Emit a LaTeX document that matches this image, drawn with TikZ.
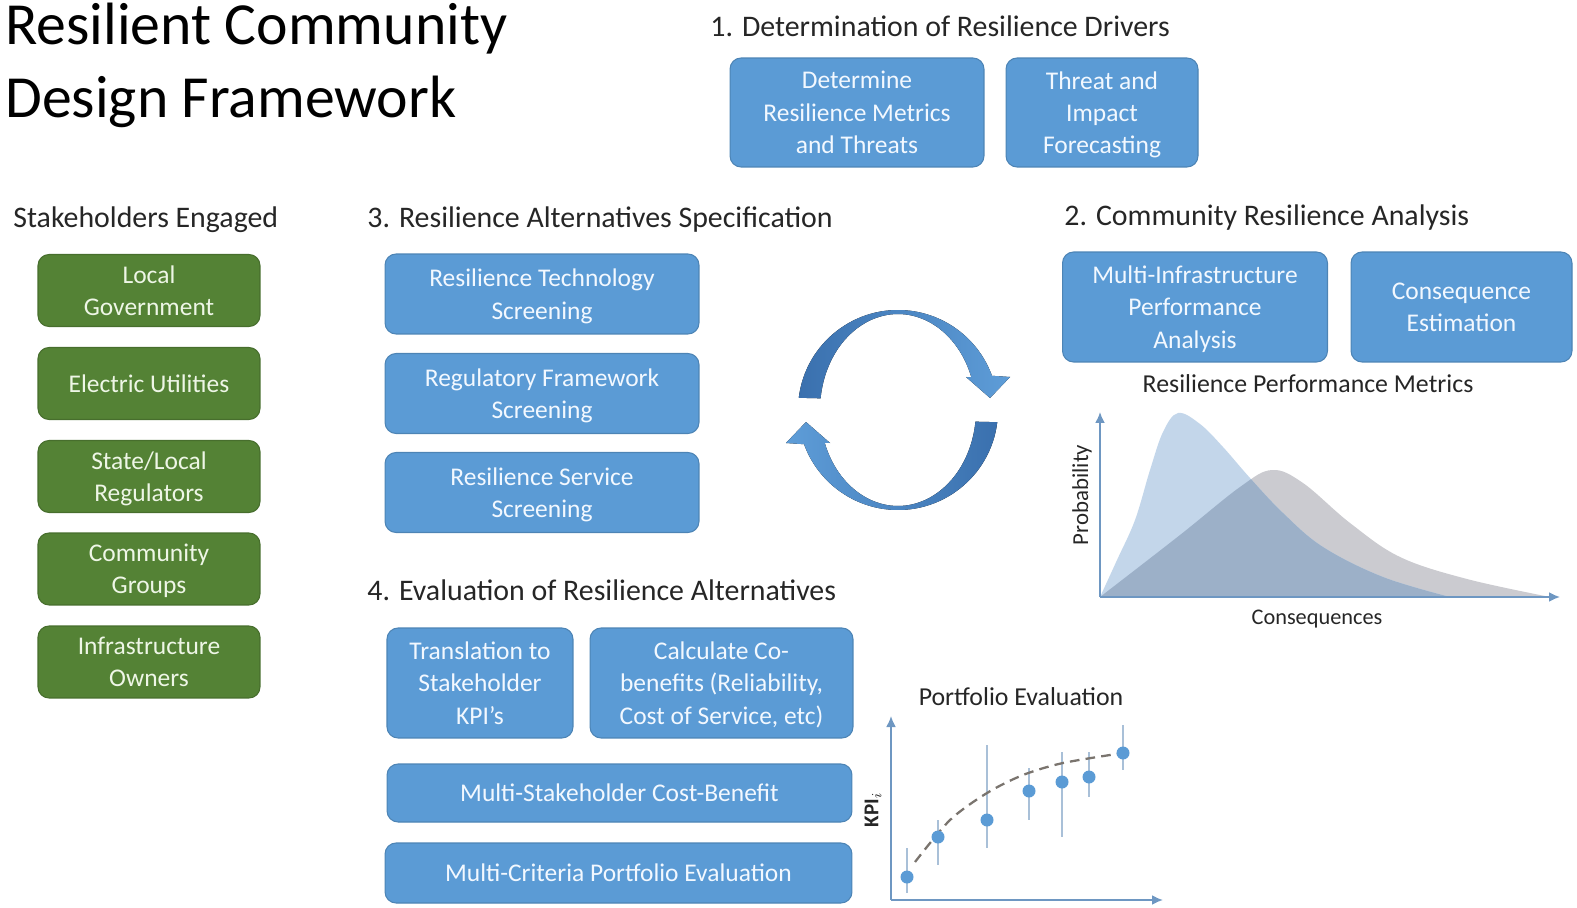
\documentclass[tikz,border=0pt]{standalone}
\usepackage{fontspec}
\setmainfont{Carlito}
\usepackage{xcolor}
\usepackage{tikz}
\usetikzlibrary{arrows.meta}

\definecolor{boxblue}{HTML}{5B9BD5}
\definecolor{boxgreen}{HTML}{548235}
\definecolor{boxtext}{HTML}{F2F8FF}
\definecolor{greentext}{HTML}{EEF6E6}
\definecolor{headgray}{HTML}{262626}
\definecolor{axisblue}{HTML}{6E97C2}
\definecolor{cycdark}{HTML}{3A70AE}
\definecolor{cyclight}{HTML}{5E9DD8}
\definecolor{pdfblue}{HTML}{C3D6EA}
\definecolor{pdfgray}{HTML}{CBCBD0}
\definecolor{pdfmix}{HTML}{9CB0C8}
\definecolor{errcolor}{HTML}{A9C0D8}
\definecolor{trendgray}{HTML}{7A746E}

\newcommand{\boxfont}{\fontsize{14.5}{18.4}\selectfont}

\begin{document}
\begin{tikzpicture}[x=0.02cm, y=0.02cm,
  bbox/.style={draw=boxblue!85!black, line width=0.6pt, fill=boxblue, rounded corners=0.22cm, text=boxtext, align=center, font=\boxfont, inner sep=0pt, text depth=0pt},
  gbox/.style={bbox, draw=boxgreen!85!black, fill=boxgreen, text=greentext},
  head/.style={anchor=base west, inner sep=0pt, text=headgray, font=\fontsize{17}{20}\selectfont},
  small/.style={anchor=base, inner sep=0pt, text=headgray, font=\fontsize{14.7}{17}\selectfont},
  axis/.style={-{Latex[length=2.2mm,width=2mm]}, axisblue, line width=1.1pt},
  errbar/.style={errcolor, line width=0.6pt},
  trend/.style={trendgray, line width=1.3pt, dash pattern=on 5.5pt off 3.5pt}
]
\useasboundingbox (0,0) rectangle (1577,-908);

% title
\node[anchor=base west, inner sep=0pt, font=\fontsize{34}{41}\selectfont] (title) at (5,-45) {Resilient Community};
\node[anchor=base west, inner sep=0pt, font=\fontsize{34}{41}\selectfont] (title2) at (5,-118) {Design Framework};

% 1. resilience drivers
\node[head] (h1) at (710,-37) {1. Determination of Resilience Drivers};
\node[bbox, minimum width=5.08cm, minimum height=2.18cm] (metrics) at (857,-112.5) {Determine\\Resilience Metrics\\and Threats};
\node[bbox, minimum width=3.84cm, minimum height=2.18cm] (threat) at (1102,-112.5) {Threat and\\Impact\\Forecasting};

% stakeholders
\node[head] (hstake) at (13,-228) {Stakeholders Engaged};
\node[gbox, minimum width=4.44cm, minimum height=1.44cm] (localgov) at (149,-290.5) {Local\\Government};
\node[gbox, minimum width=4.44cm, minimum height=1.44cm] (electric) at (149,-383.5) {Electric Utilities};
\node[gbox, minimum width=4.44cm, minimum height=1.44cm] (regulators) at (149,-476.5) {State/Local\\Regulators};
\node[gbox, minimum width=4.44cm, minimum height=1.44cm] (community) at (149,-569) {Community\\Groups};
\node[gbox, minimum width=4.44cm, minimum height=1.44cm] (owners) at (149,-662) {Infrastructure\\Owners};

% 3. alternatives specification
\node[head] (h3) at (367,-228) {3. Resilience Alternatives Specification};
\node[bbox, minimum width=6.28cm, minimum height=1.6cm] (techscr) at (542,-294) {Resilience Technology\\Screening};
\node[bbox, minimum width=6.28cm, minimum height=1.6cm] (regscr) at (542,-393.5) {Regulatory Framework\\Screening};
\node[bbox, minimum width=6.28cm, minimum height=1.6cm] (servscr) at (542,-492.5) {Resilience Service\\Screening};

% 2. resilience analysis
\node[head] (h2) at (1064,-226) {2. Community Resilience Analysis};
\node[bbox, minimum width=5.3cm, minimum height=2.2cm] (perf) at (1195,-307) {Multi-Infrastructure\\Performance\\Analysis};
\node[bbox, minimum width=4.42cm, minimum height=2.2cm] (conseq) at (1461.5,-307) {Consequence\\Estimation};
\node[small] (rpm) at (1308,-393) {Resilience Performance Metrics};

% 4. evaluation
\node[head] (h4) at (367,-600) {4. Evaluation of Resilience Alternatives};
\node[bbox, minimum width=3.72cm, minimum height=2.2cm] (kpi) at (480,-683) {Translation to\\Stakeholder\\KPI's};
\node[bbox, minimum width=5.26cm, minimum height=2.2cm] (cobenefit) at (721.5,-683) {Calculate Co-\\benefits (Reliability,\\Cost of Service, etc)};
\node[bbox, minimum width=9.3cm, minimum height=1.16cm] (costbenefit) at (619.5,-793) {Multi-Stakeholder Cost-Benefit};
\node[bbox, minimum width=9.34cm, minimum height=1.2cm] (portfolio) at (618.5,-873) {Multi-Criteria Portfolio Evaluation};

% cycle arrows
\fill[left color=cycdark, right color=cyclight] (798.74,-397.81) arc[start angle=173, end angle=20, radius=100]
  -- (1010,-377) -- (990,-398) -- (966,-377) -- (971.3,-377.2)
  arc[start angle=20, end angle=173, x radius=78, y radius=96] -- cycle;
\fill[left color=cyclight, right color=cycdark] (997.26,-422.19) arc[start angle=353, end angle=200, radius=100]
  -- (786,-443) -- (806,-422) -- (830,-443) -- (824.7,-442.8)
  arc[start angle=200, end angle=353, x radius=78, y radius=96] -- cycle;

% probability chart
\coordinate (po) at (1100,-597);
\coordinate (pytop) at (1100,-412);
\coordinate (pxend) at (1560,-597);
\path[save path=\pdfA] plot[smooth, tension=0.6] coordinates {(1100,-597) (1117,-560) (1135,-520) (1150,-470) (1163,-432) (1178,-413) (1200,-424) (1223,-447) (1250,-478) (1283,-513) (1323,-547) (1383,-577) (1450,-597)} -- cycle;
\path[save path=\pdfB] plot[smooth, tension=0.6] coordinates {(1100,-597) (1180,-535) (1240,-487) (1272,-470) (1303,-483) (1350,-523) (1400,-557) (1467,-579) (1550,-597)} -- cycle;
\fill[pdfgray, use path=\pdfB];
\fill[pdfblue, use path=\pdfA];
\begin{scope}
  \clip[use path=\pdfA];
  \fill[pdfmix, use path=\pdfB];
\end{scope}
\draw[axis] (po) -- (pytop);
\draw[axis] (po) -- (pxend);
\node[inner sep=0pt, text=headgray, font=\fontsize{13}{15}\selectfont, rotate=90] (prob) at (1082,-495) {Probability};
\node[small, font=\fontsize{12.7}{15}\selectfont] (conslabel) at (1317,-624) {Consequences};

% portfolio chart
\node[small] (pfeval) at (1021,-705) {Portfolio Evaluation};
\coordinate (ko) at (891,-900);
\coordinate (kytop) at (891,-716);
\coordinate (kxend) at (1163,-900);
\foreach \px/\py/\lo/\hi in {907/877/848/893, 938/837/820/865, 987/820/745/848, 1029/791/768/820, 1062/782/752/837, 1089/777/752/797, 1123/753/725/770}
  \draw[errbar] (\px,-\lo) -- (\px,-\hi);
\draw[trend] plot[smooth] coordinates {(915,-862) (950,-820) (987,-793) (1023,-775) (1063,-763) (1123,-753)};
\foreach \px/\py in {907/877, 938/837, 987/820, 1029/791, 1062/782, 1089/777, 1123/753}
  \fill[boxblue] (\px,-\py) circle[radius=6.5];
\draw[axis] (ko) -- (kytop);
\draw[axis] (ko) -- (kxend);
\node[inner sep=0pt, text=headgray, font=\fontsize{12}{14}\selectfont, rotate=90] (kpilabel) at (873,-810) {\textbf{KPI}$_i$};
\end{tikzpicture}
\end{document}
